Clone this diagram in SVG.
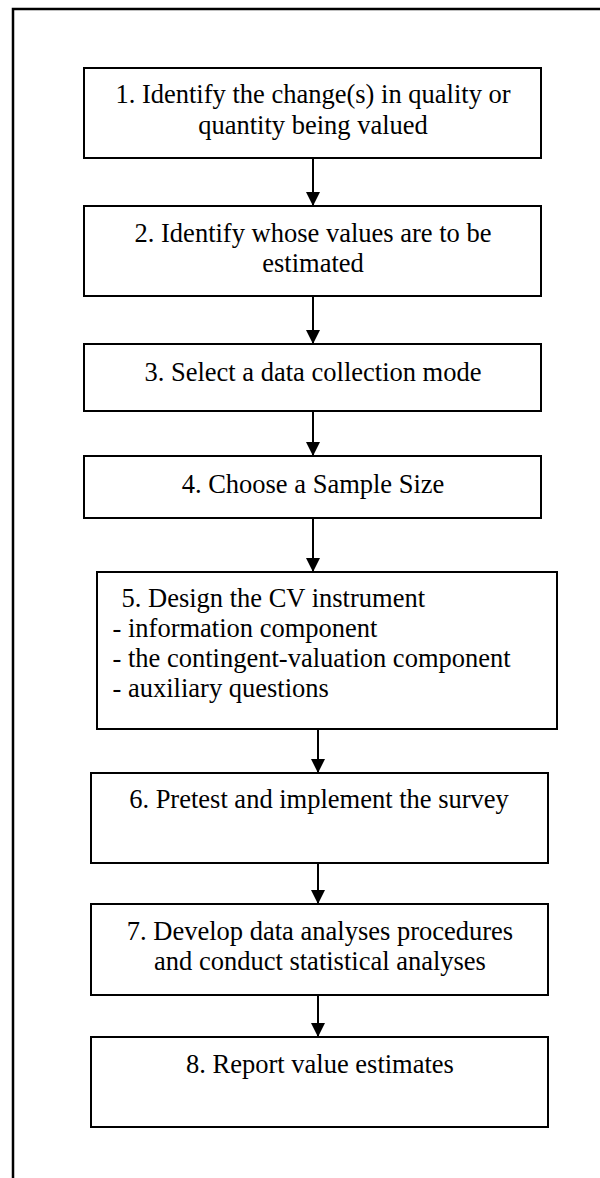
<svg xmlns="http://www.w3.org/2000/svg" width="600" height="1178" viewBox="0 0 600 1178">
<style>
.box{fill:#fff;stroke:#000;stroke-width:2}
.t{font-family:"Liberation Serif","Times New Roman",serif;font-size:26.5px;fill:#000}
.c{text-anchor:middle}
.ln{stroke:#000;stroke-width:2;fill:none}
</style>
<defs>
<marker id="ah" markerWidth="14" markerHeight="14" refX="14" refY="7" orient="auto" markerUnits="userSpaceOnUse">
<path d="M0,0 L14,7 L0,14 Z" fill="#000"/>
</marker>
</defs>
<g id="frame">
<path d="M13,1178 L13,9 L600,9" fill="none" stroke="#000" stroke-width="2.5"/>
</g>
<g id="connectors">
<line class="ln" x1="313" y1="158" x2="313" y2="206" marker-end="url(#ah)"/>
<line class="ln" x1="313" y1="296" x2="313" y2="344" marker-end="url(#ah)"/>
<line class="ln" x1="313" y1="411" x2="313" y2="456" marker-end="url(#ah)"/>
<line class="ln" x1="313" y1="518" x2="313" y2="572" marker-end="url(#ah)"/>
<line class="ln" x1="318" y1="725" x2="318" y2="773" marker-end="url(#ah)"/>
<line class="ln" x1="318" y1="860" x2="318" y2="904" marker-end="url(#ah)"/>
<line class="ln" x1="318" y1="992" x2="318" y2="1037" marker-end="url(#ah)"/>
</g>
<g id="n1">
<rect class="box" x="84" y="68" width="457" height="90"/>
<text class="t c" x="313" y="103">1. Identify the change(s) in quality or</text>
<text class="t c" x="313" y="134">quantity being valued</text>
</g>
<g id="n2">
<rect class="box" x="84" y="206" width="457" height="90"/>
<text class="t c" x="313" y="242">2. Identify whose values are to be</text>
<text class="t c" x="313" y="272">estimated</text>
</g>
<g id="n3">
<rect class="box" x="84" y="344" width="457" height="67"/>
<text class="t c" x="313" y="381">3. Select a data collection mode</text>
</g>
<g id="n4">
<rect class="box" x="84" y="456" width="457" height="62"/>
<text class="t c" x="313" y="493">4. Choose a Sample Size</text>
</g>
<g id="n5">
<rect class="box" x="97" y="572" width="460" height="157"/>
<text class="t" x="121.5" y="607">5. Design the CV instrument</text>
<text class="t" x="112.5" y="637">- information component</text>
<text class="t" x="112.5" y="667">- the contingent-valuation component</text>
<text class="t" x="112.5" y="697">- auxiliary questions</text>
</g>
<g id="n6">
<rect class="box" x="91" y="773" width="457" height="90"/>
<text class="t c" x="319" y="808">6. Pretest and implement the survey</text>
</g>
<g id="n7">
<rect class="box" x="91" y="904" width="457" height="91"/>
<text class="t c" x="320" y="940">7. Develop data analyses procedures</text>
<text class="t c" x="320" y="970">and conduct statistical analyses</text>
</g>
<g id="n8">
<rect class="box" x="91" y="1037" width="457" height="90"/>
<text class="t c" x="320" y="1073">8. Report value estimates</text>
</g>
</svg>
